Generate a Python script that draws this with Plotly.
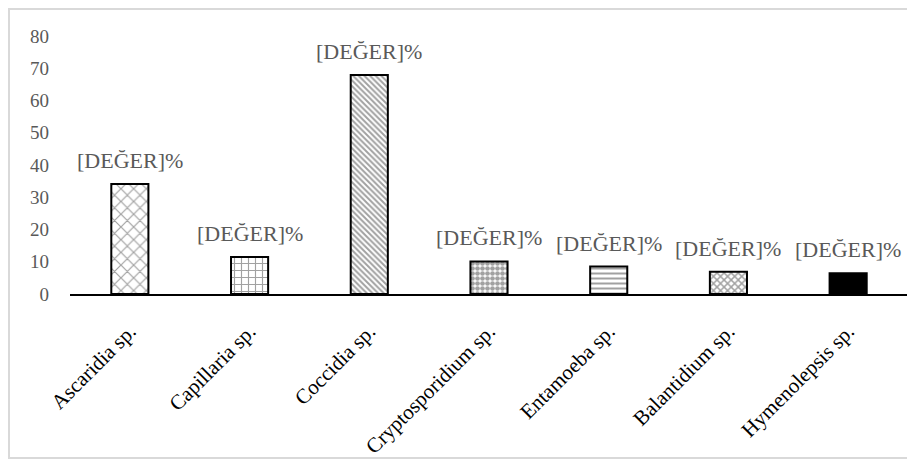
import plotly.graph_objects as go

# Parasite prevalence (%)
parasites = ['Ascaridia sp.', 'Capillaria sp.', 'Coccidia sp.', 'Cryptosporidium sp.',
             'Entamoeba sp.', 'Balantidium sp.', 'Hymenolepsis sp.']
prevalence = [34.1, 11.5, 67.9, 10.1, 8.5, 6.9, 6.4]
labels = ['[DEĞER]%'] * len(parasites)

# one pattern per bar (closest plotly shapes to the original hatchings)
shapes = ['x', '+', '\\', '.', '-', 'x', '']
sizes = [9, 7, 4, 5, 5, 5, 8]
solid = [0.25, 0.3, 0.5, 0.7, 0.4, 0.5, 0.3]

SERIF = 'Liberation Serif, Times New Roman, serif'
# the page body adds an 8px offset, so the figure is drawn 8px smaller
W, H = 907, 456
L, R, T, B = 62, 7, 28, 170

fig = go.Figure()
fig.add_trace(go.Bar(
    x=parasites, y=prevalence,
    width=0.31,
    marker=dict(
        color=['white'] * 6 + ['black'],
        line=dict(color='black', width=2),
        pattern=dict(shape=shapes, size=sizes, solidity=solid,
                     fgcolor='black', bgcolor='white', fillmode='overlay'),
    ),
))

# value labels above the bars
for name, val, lab in zip(parasites, prevalence, labels):
    fig.add_annotation(x=name, y=val, text=lab, showarrow=False,
                       yanchor='bottom', yshift=9,
                       font=dict(family=SERIF, size=22, color='#595959'))

# light grey frame around the whole chart
pw, ph = W - L - R, H - T - B
fig.add_shape(type='rect', xref='paper', yref='paper',
              x0=(1 - L) / pw, x1=(902 - L) / pw,
              y0=(H - B - 450) / ph, y1=(H - B - 1) / ph,
              line=dict(color='#d9d9d9', width=2), fillcolor='rgba(0,0,0,0)')

fig.update_layout(
    width=W, height=H,
    margin=dict(l=L, r=R, t=T, b=B),
    plot_bgcolor='white', paper_bgcolor='white',
    font=dict(family=SERIF, color='#595959'),
    showlegend=False,
)
fig.update_xaxes(showline=True, linecolor='black', linewidth=1.5, automargin=False,
                 tickangle=-45, ticks='', ticklabelstandoff=15,
                 tickfont=dict(family=SERIF, size=21, color='black'))
fig.update_yaxes(range=[0, 80], dtick=10, showgrid=False, zeroline=False, automargin=False,
                 ticklabelstandoff=20,
                 tickfont=dict(family=SERIF, size=19, color='#595959'))

fig.write_html('out.html')
